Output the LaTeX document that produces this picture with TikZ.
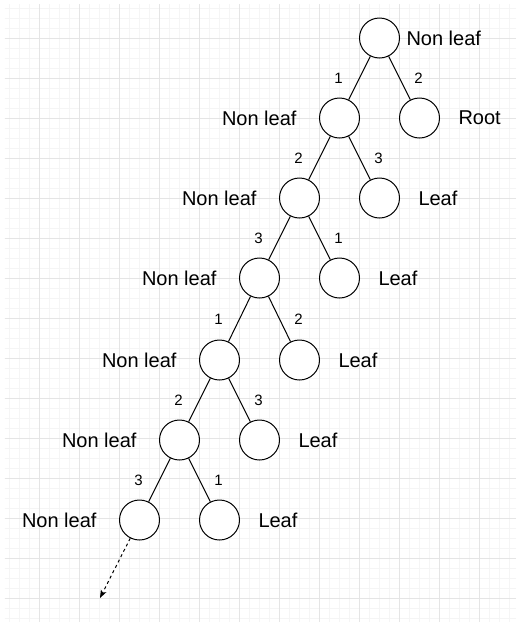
\documentclass[tikz,border=0pt]{standalone}
\usepackage{fontspec}
\setmainfont{Liberation Sans}
\usetikzlibrary{positioning,arrows.meta}

\begin{document}
\begin{tikzpicture}[x=1pt,y=-1pt,on grid,line width=1pt,
		vertex/.style={circle,draw,fill=white,inner sep=0pt,minimum size=40pt},
		word/.style={inner sep=0pt,font=\fontsize{20}{24}\selectfont},
		lnum/.style={inner sep=0pt,xshift=-21pt,font=\fontsize{15}{18}\selectfont},
		rnum/.style={inner sep=0pt,xshift=19pt,font=\fontsize{15}{18}\selectfont},
		minorgrid/.style={draw=black!4,xshift=-0.5pt,yshift=1.5pt},
		majorgrid/.style={draw=black!10,xshift=-0.5pt,yshift=1.5pt},
		more/.style={dashed,dash pattern=on 3pt off 3pt,-{Stealth[length=8pt,width=6pt,inset=2pt]}}]
		\useasboundingbox (0,0) rectangle (516,622);
		\fill[white] (0,0) rectangle (516,622);
		\draw[minorgrid] (5,5) grid[step=10pt] (517,624);
		\draw[majorgrid] (5,5) grid[step=40pt] (517,624);

		\node[vertex,label={[word,label distance=6pt]0:Non leaf}]					(1)		at (379.5,38) {};
		\node[vertex,below left=80pt and 40pt of 1,label={[word,label distance=22pt]180:Non leaf}]	(2)		{};
		\node[vertex,below right=80pt and 40pt of 1,label={[word,label distance=18pt]0:Root}]		(3)		{};
		\node[vertex,below left=80pt and 40pt of 2,label={[word,label distance=22pt]180:Non leaf}]	(4)		{};
		\node[vertex,below right=80pt and 40pt of 2,label={[word,label distance=18pt]0:Leaf}]		(5)		{};
		\node[vertex,below left=80pt and 40pt of 4,label={[word,label distance=22pt]180:Non leaf}]	(6)		{};
		\node[vertex,below right=80pt and 40pt of 4,label={[word,label distance=18pt]0:Leaf}]		(7)		{};
		\node[vertex,below left=82pt and 40pt of 6,label={[word,label distance=22pt]180:Non leaf}]	(8)		{};
		\node[vertex,below right=82pt and 40pt of 6,label={[word,label distance=18pt]0:Leaf}]		(9)		{};
		\node[vertex,below left=80pt and 40pt of 8,label={[word,label distance=22pt]180:Non leaf}]	(10)	{};
		\node[vertex,below right=80pt and 40pt of 8,label={[word,label distance=18pt]0:Leaf}]		(11)	{};
		\node[vertex,below left=80pt and 40pt of 10,label={[word,label distance=22pt]180:Non leaf}]	(12)	{};
		\node[vertex,below right=80pt and 40pt of 10,label={[word,label distance=18pt]0:Leaf}]		(13)	{};
		\coordinate (14) at (100,598);

		\draw (1) -- node[lnum] {1} (2);
		\draw (1) -- node[rnum] {2} (3);
		\draw (2) -- node[lnum] {2} (4);
		\draw (2) -- node[rnum] {3} (5);
		\draw (4) -- node[lnum] {3} (6);
		\draw (4) -- node[rnum] {1} (7);
		\draw (6) -- node[lnum] {1} (8);
		\draw (6) -- node[rnum] {2} (9);
		\draw (8) -- node[lnum] {2} (10);
		\draw (8) -- node[rnum] {3} (11);
		\draw (10) -- node[lnum] {3} (12);
		\draw (10) -- node[rnum] {1} (13);
		\draw[more] (12) -- (14);
	\end{tikzpicture}
\end{document}
